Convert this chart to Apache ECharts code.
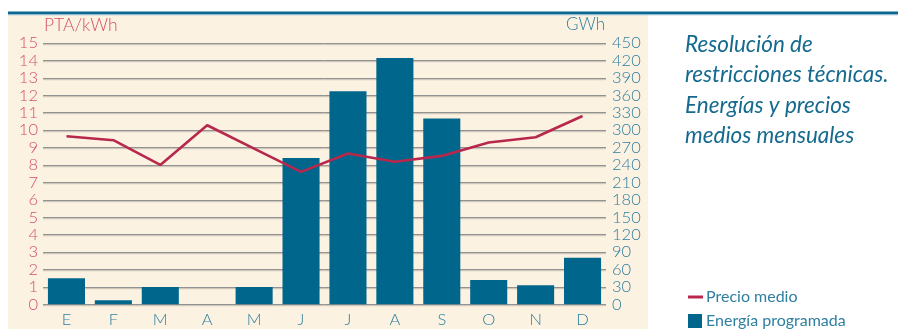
<!DOCTYPE html>
<html>
<head>
<meta charset="utf-8">
<script src="https://cdn.jsdelivr.net/npm/echarts@6/dist/echarts.min.js"></script>
<style>
  html, body { margin: 0; padding: 0; background: #ffffff; }
  #chart { width: 898px; height: 329px; }
</style>
</head>
<body>
<div id="chart"></div>
<script>
// Months (Spanish initials)
const months = ['E', 'F', 'M', 'A', 'M', 'J', 'J', 'A', 'S', 'O', 'N', 'D'];
// Average price, PTA/kWh (left axis)
const precioMedio = [9.65, 9.42, 8.0, 10.28, 8.94, 7.6, 8.66, 8.18, 8.52, 9.29, 9.59, 10.81];
// Scheduled energy, GWh (right axis)
const energiaProgramada = [45, 7, 30, 0, 30, 252, 367, 424, 320, 42, 33, 80];
// Axis tick labels
const ptaTicks = [0, 1, 2, 3, 4, 5, 6, 7, 8, 9, 10, 11, 12, 13, 14, 15];
const gwhTicks = [0, 30, 60, 90, 120, 150, 180, 210, 240, 270, 300, 330, 360, 390, 420, 450];

const RED = '#b8274c';
const RED_TXT = '#d2506b';
const TEAL = '#00668c';
const TEAL_TXT = '#2e7fa0';
const FONT = 'Lato, "Open Sans", sans-serif';

const chart = echarts.init(document.getElementById('chart'));

const gridLine = {
  show: true,
  lineStyle: {
    color: '#929292',
    width: 1,
    shadowColor: 'rgba(0,0,0,0.22)',
    shadowOffsetY: 1.2,
    shadowBlur: 0
  }
};

chart.setOption({
  animation: false,
  backgroundColor: '#ffffff',
  textStyle: { fontFamily: FONT },
  graphic: [
    { type: 'rect', z: -10, silent: true,
      shape: { x: 8, y: 15, width: 640, height: 314 },
      style: { fill: '#fcf2e2' } },
    { type: 'rect', z: -5, silent: true,
      shape: { x: 8, y: 11.5, width: 890, height: 2.5 },
      style: { fill: '#0b6890' } },
    { type: 'rect', z: -5, silent: true,
      shape: { x: 8, y: 14, width: 890, height: 1.2 },
      style: { fill: '#8fbcd0' } },
    { type: 'text', left: 44, top: 16,
      style: { text: 'PTA/kWh', font: '300 17.5px ' + FONT, fill: RED_TXT } },
    { type: 'text', right: 293, top: 16,
      style: { text: 'GWh', font: '300 17px ' + FONT, fill: TEAL_TXT, textAlign: 'right' } }
  ],
  title: {
    text: 'Resolución de\nrestricciones técnicas.\nEnergías y precios\nmedios mensuales',
    left: 685, top: 29,
    padding: 0,
    textStyle: {
      fontFamily: FONT, fontStyle: 'italic', fontWeight: 'normal',
      fontSize: 22.5, lineHeight: 30.5, color: '#166a8e'
    }
  },
  legend: [
    {
      data: ['Precio medio'],
      left: 688, top: 289, padding: 0,
      icon: 'rect', itemWidth: 15, itemHeight: 3, itemGap: 4,
      textStyle: { fontFamily: FONT, fontSize: 16, color: TEAL_TXT, padding: [0, 0, 0, -2] }
    },
    {
      data: ['Energía programada'],
      left: 688, top: 313, padding: 0,
      icon: 'rect', itemWidth: 14, itemHeight: 14, itemGap: 4,
      textStyle: { fontFamily: FONT, fontSize: 16, color: TEAL_TXT, padding: [0, 0, 0, -1] }
    }
  ],
  grid: { left: 43, right: 292, top: 43, bottom: 24.7, containLabel: false },
  xAxis: {
    type: 'category',
    data: months,
    axisLine: { show: false },
    axisTick: { show: false },
    axisLabel: { color: TEAL_TXT, fontSize: 16.5, fontWeight: 300, margin: 7, interval: 0 },
    splitLine: { show: false }
  },
  yAxis: [
    {
      type: 'value', min: 0, max: ptaTicks[ptaTicks.length - 1], interval: 1,
      axisLine: { show: false }, axisTick: { show: false },
      axisLabel: {
        color: RED_TXT, fontSize: 16.5, fontWeight: 300, margin: 5,
        formatter: v => ptaTicks.includes(v) ? String(v) : ''
      },
      splitLine: gridLine
    },
    {
      type: 'value', min: 0, max: gwhTicks[gwhTicks.length - 1], interval: 30,
      position: 'right',
      axisLine: { show: false }, axisTick: { show: false },
      axisLabel: {
        color: TEAL_TXT, fontSize: 16.5, fontWeight: 300, margin: 6, align: 'left',
        formatter: v => gwhTicks.includes(v) ? String(v) : ''
      },
      splitLine: { show: false }
    }
  ],
  series: [
    {
      name: 'Energía programada',
      type: 'bar',
      yAxisIndex: 1,
      data: energiaProgramada,
      barWidth: '79%',
      itemStyle: { color: TEAL },
      z: 2
    },
    {
      name: 'Precio medio',
      type: 'line',
      yAxisIndex: 0,
      data: precioMedio,
      symbol: 'none',
      lineStyle: { color: RED, width: 2.6 },
      itemStyle: { color: RED },
      z: 3
    }
  ]
});
</script>
</body>
</html>
